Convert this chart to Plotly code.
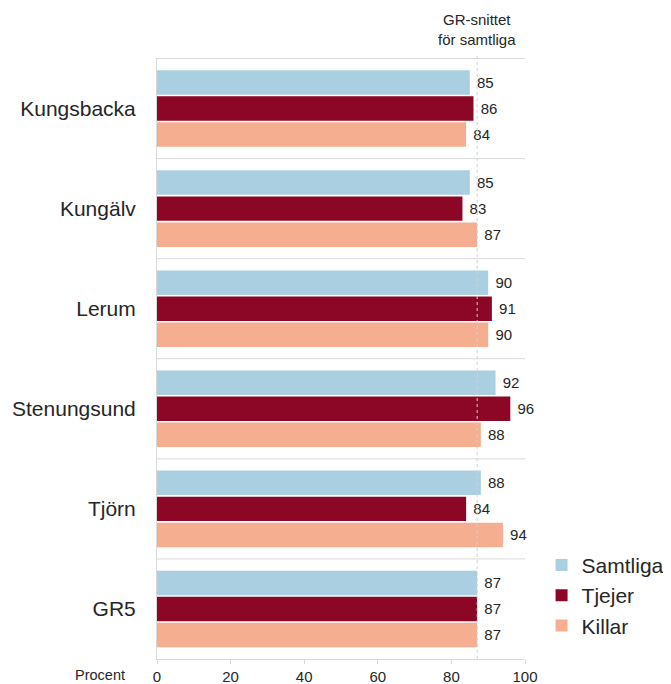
import plotly.graph_objects as go

categories = ["Kungsbacka", "Kungälv", "Lerum", "Stenungsund", "Tjörn", "GR5"]
samtliga = [85, 85, 90, 92, 88, 87]
tjejer = [86, 83, 91, 96, 84, 87]
killar = [84, 87, 90, 88, 94, 87]
gr_average = 87
x_ticks = [0, 20, 40, 60, 80, 100]

series = [
    ("Samtliga", samtliga, "#A9CFE0"),
    ("Tjejer", tjejer, "#8B0725"),
    ("Killar", killar, "#F6AE91"),
]

FONT = "Liberation Sans, Arial, sans-serif"
TXT = "#262626"

fig = go.Figure()
for name, vals, col in series:
    fig.add_trace(go.Bar(
        y=categories, x=vals, name=name, orientation="h", legendgroup=name,
        marker=dict(color=col, line=dict(width=0)),
        text=vals, texttemplate="\u00a0%{x}", textposition="outside",
        textfont=dict(size=15, color=TXT, family=FONT),
        cliponaxis=False,
    ))

# group separators
for i in range(len(categories)):
    fig.add_shape(type="line", xref="x", yref="y", x0=0, x1=100,
                  y0=i - 0.5, y1=i - 0.5, line=dict(color="#D9D9D9", width=1), layer="below")

# GR average dashed line
fig.add_shape(type="line", xref="x", yref="paper", x0=gr_average, x1=gr_average,
              y0=0, y1=1.008, line=dict(color="#D0D0D0", width=1, dash="3px,3px"), layer="above")

fig.add_annotation(x=gr_average, xref="x", y=1.0, yref="paper", yshift=8,
                   text="GR-snittet<br>för samtliga", showarrow=False,
                   font=dict(size=15, color=TXT, family=FONT), yanchor="bottom")

fig.add_annotation(x=-0.083, xref="paper", y=-0.027, yref="paper",
                   text="Procent", showarrow=False, xanchor="right", yanchor="middle",
                   borderpad=0, font=dict(size=14.5, color=TXT, family=FONT))

fig.update_layout(
    width=663, height=676,
    margin=dict(l=149, r=146, t=50, b=25, autoexpand=False),
    paper_bgcolor="white", plot_bgcolor="white",
    barmode="group", bargap=0.22, bargroupgap=0.06,
    font=dict(family=FONT, color=TXT),
    legend=dict(x=1.045, y=0.19, xanchor="left", yanchor="top",
                traceorder="normal", font=dict(size=21, color=TXT, family=FONT),
                itemwidth=30, tracegroupgap=10),
    xaxis=dict(range=[0, 100], tickvals=x_ticks, showgrid=False, zeroline=False,
               showline=True, linecolor="#D9D9D9", linewidth=1,
               ticks="outside", ticklen=4, tickcolor="#D9D9D9",
               tickfont=dict(size=15, color=TXT, family=FONT)),
    yaxis=dict(autorange="reversed", showgrid=False, zeroline=False,
               showline=True, linecolor="#D9D9D9", linewidth=1, ticks="",
               ticklabelstandoff=16,
               tickfont=dict(size=21, color=TXT, family=FONT)),
)

fig.write_html("out.html")
